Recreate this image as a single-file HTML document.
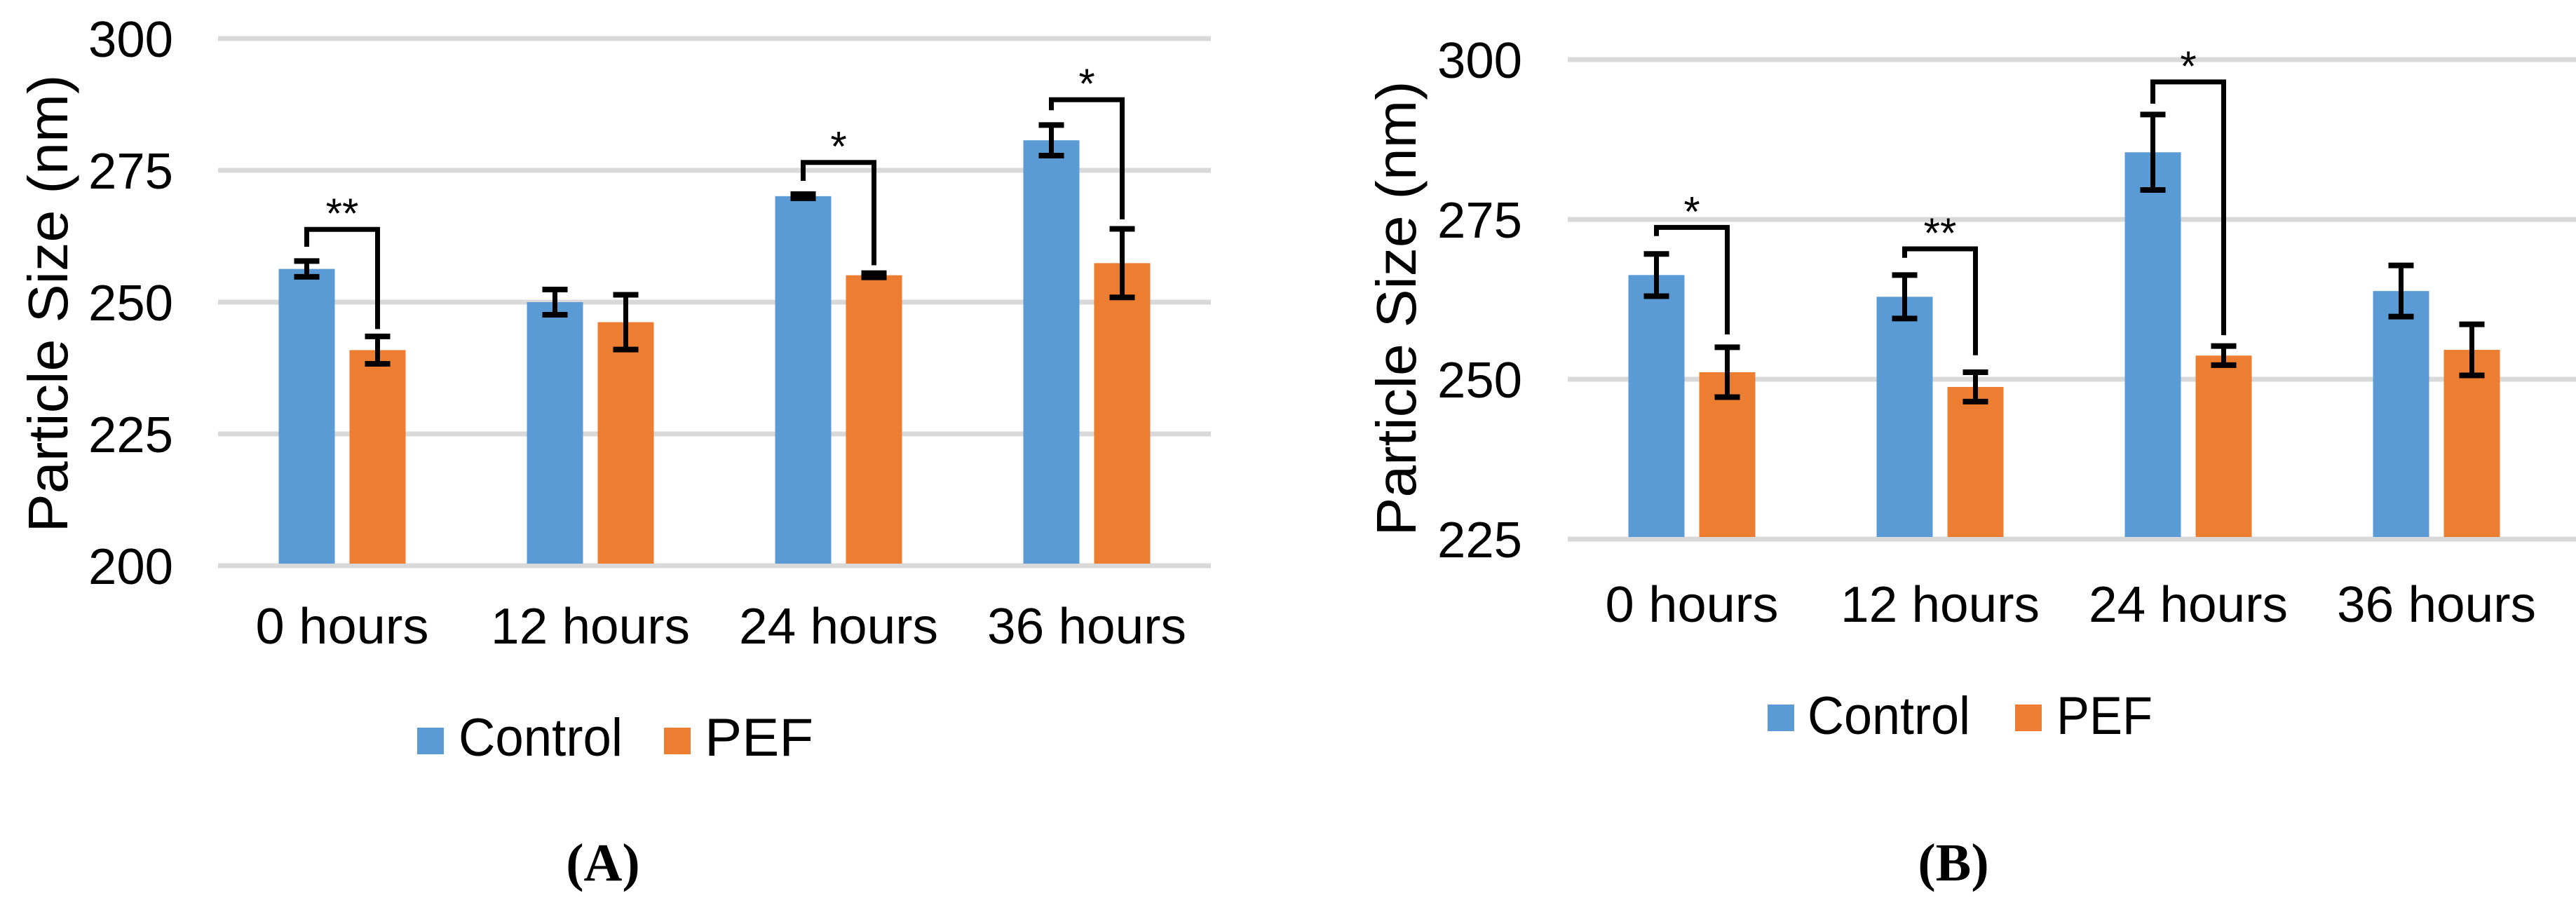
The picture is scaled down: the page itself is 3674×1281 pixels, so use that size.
<!DOCTYPE html>
<html><head><meta charset="utf-8">
<style>
html,body{margin:0;padding:0;background:#fff;}
svg{display:block;}
text{font-family:"Liberation Sans",sans-serif;fill:#000;}
.cap{font-family:"Liberation Serif",serif;font-weight:bold;}
</style></head>
<body>
<svg id="fig" width="3674" height="1281" viewBox="0 0 3674 1281" xmlns="http://www.w3.org/2000/svg">
  <rect width="3674" height="1281" fill="#fff"/>
  <g id="chartA"></g>
  <g id="chartB"></g>
</svg>
<script>
const categories = ["0 hours","12 hours","24 hours","36 hours"];
const seriesNames = ["Control","PEF"];
// Chart A
const aControl = [256.3, 250.0, 270.1, 280.7];
const aPEF = [240.9, 246.2, 255.1, 257.4];
const aControlErr = [1.5, 2.4, 0.4, 2.9];
const aPEFErr = [2.6, 5.2, 0.4, 6.5];
const aTicks = [200, 225, 250, 275, 300];
const aSigIndex = [0, 2, 3];
const aSigLabels = ["**", "*", "*"];
const aSigTop = [263.8, 276.5, 288.4];
const aSigLeftEnd = [260.5, 273.0, 286.4];
const aSigRightEnd = [244.9, 257.0, 265.7];
// Chart B
const bControl = [266.3, 262.9, 285.5, 263.8];
const bPEF = [251.1, 248.8, 253.7, 254.6];
const bControlErr = [3.3, 3.4, 5.9, 4.0];
const bPEFErr = [3.9, 2.3, 1.5, 4.0];
const bTicks = [225, 250, 275, 300];
const bSigIndex = [0, 1, 2];
const bSigLabels = ["*", "**", "*"];
const bSigTop = [273.75, 270.4, 296.5];
const bSigLeftEnd = [272.4, 269.0, 293.1];
const bSigRightEnd = [257.0, 253.75, 256.9];

const NS = "http://www.w3.org/2000/svg";
function mk(parent, tag, attrs, txt){
  const e = document.createElementNS(NS, tag);
  for (const k in attrs) e.setAttribute(k, attrs[k]);
  if (txt !== undefined) e.textContent = txt;
  parent.appendChild(e);
  return e;
}
const COLORS = ["#5b9bd5", "#ed7d31"];

function drawChart(g, cfg, ctrl, pef, ctrlErr, pefErr, ticks, sigIdx, sigLab, sigTop, sigL, sigR){
  const yMin = ticks[0], yMax = ticks[ticks.length-1];
  const y = v => cfg.yBottom - (v - yMin) / (yMax - yMin) * (cfg.yBottom - cfg.yTop);
  const cw = (cfg.xRight - cfg.xLeft) / categories.length;
  const cx = i => cfg.xLeft + cw * (i + 0.5);
  const barW = 80, gap = 21;
  const barX = (i, s) => s === 0 ? cx(i) - gap/2 - barW : cx(i) + gap/2;

  ticks.forEach(t => {
    const l = mk(g, "line", {x1: cfg.xLeft, x2: cfg.gridRight, y1: y(t), y2: y(t), stroke: "#d9d9d9", "stroke-width": 7});
    
    
    const tx = mk(g, "text", {x: cfg.tickRight, y: y(t) + 26, "text-anchor": "end", "font-size": 72, textLength: 121, lengthAdjust: "spacingAndGlyphs"}, String(t));
    
    
  });

  const series = [ctrl, pef], errs = [ctrlErr, pefErr];
  categories.forEach((c, i) => {
    [0, 1].forEach(s => {
      const v = series[s][i];
      const bx = barX(i, s);
      const r = mk(g, "rect", {x: bx, y: y(v), width: barW, height: y(yMin) - y(v) - 3, fill: COLORS[s]});
      
      
      const e = errs[s][i];
      const mx = bx + barW/2;
      const eg = mk(g, "g", {stroke: "#000", fill: "none"});
      
      
      mk(eg, "line", {x1: mx, x2: mx, y1: y(v + e), y2: y(v - e), "stroke-width": 7});
      mk(eg, "line", {x1: mx - 18, x2: mx + 18, y1: y(v + e), y2: y(v + e), "stroke-width": 8});
      mk(eg, "line", {x1: mx - 18, x2: mx + 18, y1: y(v - e), y2: y(v - e), "stroke-width": 8});
    });
    const lab = mk(g, "text", {x: cx(i), y: cfg.xLabelY, "text-anchor": "middle", "font-size": 72, textLength: cfg.labelW[i], lengthAdjust: "spacingAndGlyphs"}, c);
    
    
  });

  sigIdx.forEach((i, k) => {
    const lx = barX(i, 0) + barW/2, rx = barX(i, 1) + barW/2;
    const p = mk(g, "path", {d: `M${lx},${y(sigL[k])} L${lx},${y(sigTop[k])} L${rx},${y(sigTop[k])} L${rx},${y(sigR[k])}`, stroke: "#000", "stroke-width": 7, fill: "none"});
    
    
    const st = mk(g, "text", {x: (lx + rx)/2, y: y(sigTop[k]) - 2, "text-anchor": "middle", "font-size": 60}, sigLab[k]);
    
    
  });

  const tt = mk(g, "text", {transform: `translate(${cfg.titleX},${cfg.titleY}) rotate(-90)`, "text-anchor": "middle", "font-size": 80, textLength: cfg.titleLen, lengthAdjust: "spacingAndGlyphs"}, "Particle Size  (nm)");
  
  

  const L = cfg.legend;
  seriesNames.forEach((n, s) => {
    const lg = mk(g, "g", {});
    
    
    mk(lg, "rect", {x: L.sq[s], y: L.sqY, width: 38, height: 38, fill: COLORS[s]});
    mk(lg, "text", {x: L.tx[s], y: L.base, "font-size": 76, textLength: L.tw[s], lengthAdjust: "spacingAndGlyphs"}, n);
  });

  const cap = mk(g, "text", {x: cfg.capX, y: 1256, "text-anchor": "middle", "font-size": 76, "class": "cap"}, cfg.cap);
  
  
}

drawChart(document.getElementById("chartA"), {
  yTop: 55, yBottom: 807, xLeft: 311, xRight: 1727, gridRight: 1727, tickRight: 247,
  xLabelY: 918, labelW: [247, 284, 284, 284], titleX: 96, titleY: 433, titleLen: 653,
  legend: {sq: [595, 947], sqY: 1038, tx: [654, 1005], tw: [234, 155], base: 1078},
  capX: 860, cap: "(A)"
}, aControl, aPEF, aControlErr, aPEFErr, aTicks, aSigIndex, aSigLabels, aSigTop, aSigLeftEnd, aSigRightEnd);

drawChart(document.getElementById("chartB"), {
  yTop: 85, yBottom: 769, xLeft: 2236, xRight: 3652, gridRight: 3674, tickRight: 2171,
  xLabelY: 887, labelW: [247, 284, 284, 284], titleX: 2019, titleY: 440, titleLen: 649,
  legend: {sq: [2521, 2874], sqY: 1005, tx: [2578, 2933], tw: [232, 137], base: 1047},
  capX: 2786, cap: "(B)"
}, bControl, bPEF, bControlErr, bPEFErr, bTicks, bSigIndex, bSigLabels, bSigTop, bSigLeftEnd, bSigRightEnd);
</script>
</body></html>
